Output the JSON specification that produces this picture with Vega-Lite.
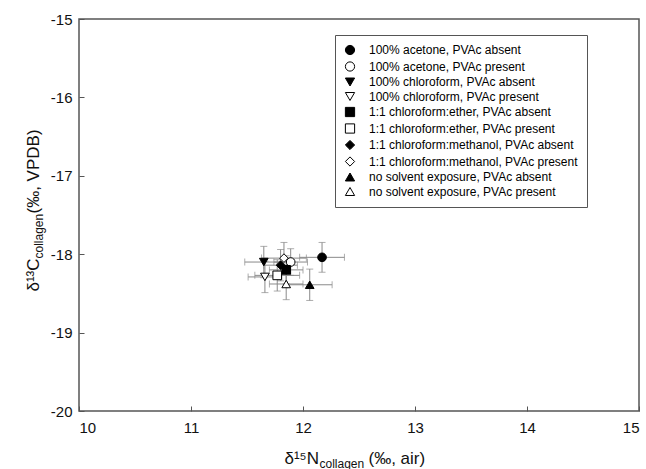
{
  "$schema": "https://vega.github.io/schema/vega-lite/v6.json",
  "width": 560,
  "height": 392,
  "autosize": "none",
  "padding": {"left": 79, "top": 19, "right": 7, "bottom": 58},
  "background": "white",
  "config": {
    "view": {"stroke": "#555555", "strokeWidth": 1.5},
    "font": "Liberation Sans",
    "axis": {"domain": false, "grid": false, "tickSize": -5, "tickColor": "#555555", "labelFontSize": 15, "labelColor": "#111111", "labelFont": "Liberation Sans", "titleFont": "Liberation Sans", "titleColor": "#111111", "titleFontWeight": "normal", "labelExpr": "replace(datum.label, '−', '-')"}
  },
  "data": {"values": [
    {"s": "100% acetone, PVAc absent", "n": 12.17, "c": -18.04, "en": 0.2, "ec": 0.19},
    {"s": "100% acetone, PVAc present", "n": 11.89, "c": -18.1, "en": 0.15, "ec": 0.17},
    {"s": "100% chloroform, PVAc absent", "n": 11.65, "c": -18.1, "en": 0.17, "ec": 0.2},
    {"s": "100% chloroform, PVAc present", "n": 11.66, "c": -18.29, "en": 0.15, "ec": 0.2},
    {"s": "1:1 chloroform:ether, PVAc absent", "n": 11.85, "c": -18.2, "en": 0.15, "ec": 0.18},
    {"s": "1:1 chloroform:ether, PVAc present", "n": 11.77, "c": -18.27, "en": 0.2, "ec": 0.2},
    {"s": "1:1 chloroform:methanol, PVAc absent", "n": 11.8, "c": -18.14, "en": 0.15, "ec": 0.2},
    {"s": "1:1 chloroform:methanol, PVAc present", "n": 11.83, "c": -18.05, "en": 0.2, "ec": 0.2},
    {"s": "no solvent exposure, PVAc absent", "n": 12.06, "c": -18.39, "en": 0.2, "ec": 0.2},
    {"s": "no solvent exposure, PVAc present", "n": 11.85, "c": -18.38, "en": 0.15, "ec": 0.2}
  ]},
  "resolve": {"axis": {"x": "independent", "y": "independent"}},
  "layer": [
    {
      "mark": {"type": "errorbar", "ticks": {"size": 7, "color": "#8a8a8a"}, "rule": {"color": "#8a8a8a"}},
      "encoding": {
        "x": {"field": "n", "type": "quantitative", "scale": {"domain": [10, 15], "nice": false}, "axis": null},
        "xError": {"field": "en"},
        "y": {"field": "c", "type": "quantitative", "scale": {"domain": [-20, -15], "nice": false}, "axis": null}
      }
    },
    {
      "mark": {"type": "errorbar", "ticks": {"size": 7, "color": "#8a8a8a"}, "rule": {"color": "#8a8a8a"}},
      "encoding": {
        "y": {"field": "c", "type": "quantitative", "axis": null},
        "yError": {"field": "ec"},
        "x": {"field": "n", "type": "quantitative", "axis": null}
      }
    },
    {
      "mark": {"type": "point", "stroke": "black", "strokeWidth": 1, "opacity": 1, "size": 75},
      "encoding": {
        "x": {"field": "n", "type": "quantitative", "axis": {"orient": "bottom", "values": [10, 11, 12, 13, 14, 15], "labelPadding": 14, "title": "δ¹⁵N", "titleFontSize": 17, "titleAlign": "left", "titleBaseline": "alphabetic", "titleX": 205, "titleY": 52, "titleAnchor": null}},
        "y": {"field": "c", "type": "quantitative", "axis": {"orient": "left", "values": [-20, -19, -18, -17, -16, -15], "labelPadding": 12, "title": "δ¹³C", "titleFontSize": 17, "titleAngle": 270, "titleAlign": "left", "titleBaseline": "alphabetic", "titleX": -41, "titleY": 272}},
        "shape": {"field": "s", "type": "nominal", "sort": null,
          "scale": {"domain": ["100% acetone, PVAc absent", "100% acetone, PVAc present", "100% chloroform, PVAc absent", "100% chloroform, PVAc present", "1:1 chloroform:ether, PVAc absent", "1:1 chloroform:ether, PVAc present", "1:1 chloroform:methanol, PVAc absent", "1:1 chloroform:methanol, PVAc present", "no solvent exposure, PVAc absent", "no solvent exposure, PVAc present"],
            "range": ["circle", "circle", "triangle-down", "triangle-down", "square", "square", "diamond", "diamond", "triangle-up", "triangle-up"]},
          "legend": {"orient": "none", "legendX": 256, "legendY": 16, "title": null, "strokeColor": "#555555", "fillColor": "white", "padding": 9, "labelOffset": 13, "labelFontSize": 12, "labelFont": "Liberation Sans", "labelColor": "black", "symbolSize": 85, "symbolStrokeColor": "black", "symbolStrokeWidth": 1, "rowPadding": 2.5, "labelLimit": 300, "symbolOpacity": 1,
            "encode": {"symbols": {"update": {"stroke": {"value": "black"}, "strokeWidth": {"value": 1}, "opacity": {"value": 1}}}}}},
        "fill": {"field": "s", "type": "nominal", "sort": null,
          "scale": {"domain": ["100% acetone, PVAc absent", "100% acetone, PVAc present", "100% chloroform, PVAc absent", "100% chloroform, PVAc present", "1:1 chloroform:ether, PVAc absent", "1:1 chloroform:ether, PVAc present", "1:1 chloroform:methanol, PVAc absent", "1:1 chloroform:methanol, PVAc present", "no solvent exposure, PVAc absent", "no solvent exposure, PVAc present"],
            "range": ["black", "white", "black", "white", "black", "white", "black", "white", "black", "white"]},
          "legend": {"orient": "none", "legendX": 256, "legendY": 16, "title": null, "strokeColor": "#555555", "fillColor": "white", "padding": 9, "labelOffset": 13, "labelFontSize": 12, "labelFont": "Liberation Sans", "labelColor": "black", "symbolSize": 85, "symbolStrokeColor": "black", "symbolStrokeWidth": 1, "rowPadding": 2.5, "labelLimit": 300, "symbolOpacity": 1,
            "encode": {"symbols": {"update": {"stroke": {"value": "black"}, "strokeWidth": {"value": 1}, "opacity": {"value": 1}}}}}}
      }
    },
    {
      "mark": {"type": "point", "opacity": 0},
      "encoding": {
        "x": {"field": "n", "type": "quantitative", "axis": {"orient": "bottom", "labels": false, "ticks": false, "title": "collagen", "titleFontSize": 12, "titleAlign": "left", "titleBaseline": "alphabetic", "titleX": 240, "titleY": 56}},
        "y": {"field": "c", "type": "quantitative", "axis": {"orient": "left", "labels": false, "ticks": false, "title": "collagen", "titleFontSize": 12, "titleAngle": 270, "titleAlign": "left", "titleBaseline": "alphabetic", "titleX": -37, "titleY": 239}}
      }
    },
    {
      "mark": {"type": "point", "opacity": 0},
      "encoding": {
        "x": {"field": "n", "type": "quantitative", "axis": {"orient": "bottom", "labels": false, "ticks": false, "title": "(‰, air)", "titleFontSize": 17, "titleAlign": "left", "titleBaseline": "alphabetic", "titleX": 289, "titleY": 52}},
        "y": {"field": "c", "type": "quantitative", "axis": {"orient": "left", "labels": false, "ticks": false, "title": "(‰, VPDB)", "titleFontSize": 17, "titleAngle": 270, "titleAlign": "left", "titleBaseline": "alphabetic", "titleX": -41, "titleY": 194}}
      }
    }
  ]
}
